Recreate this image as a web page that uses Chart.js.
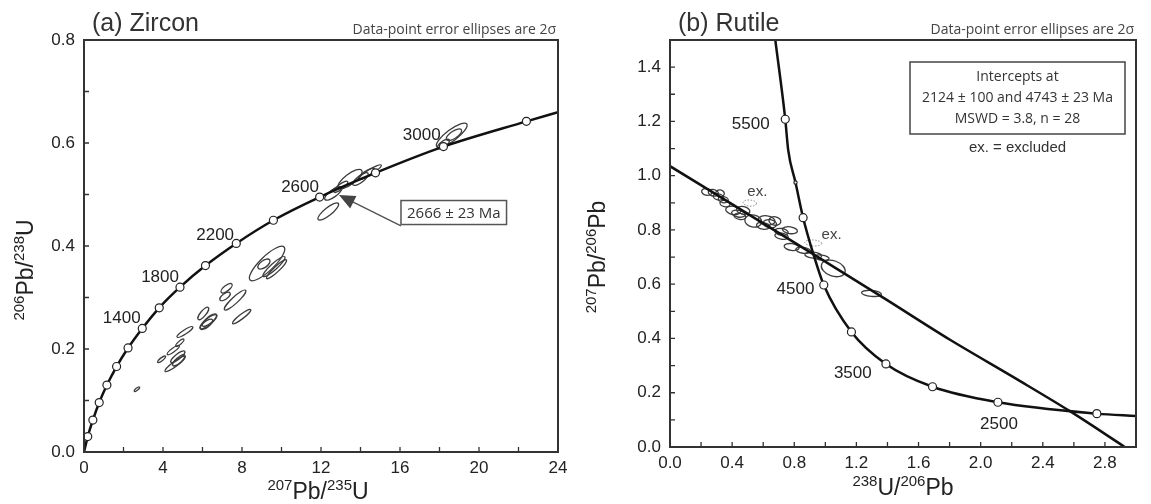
<!DOCTYPE html>
<html>
<head>
<meta charset="utf-8">
<script src="https://cdn.jsdelivr.net/npm/chart.js@4.4.1/dist/chart.umd.min.js"></script>
<style>
  body { margin: 0; background: #fff; width: 1151px; height: 504px; position: relative; overflow: hidden; }
  canvas { position: absolute; top: 0; }
  #zircon { left: 0; }
  #rutile { left: 576px; }
</style>
</head>
<body>
<canvas id="zircon" width="575" height="504"></canvas>
<canvas id="rutile" width="575" height="504"></canvas>
<script>
// (a) Zircon: concordia curve, markers every 200 Ma
const zirconCurveX = [0, 0.19, 0.45, 0.77, 1.16, 1.65, 2.23, 2.95, 3.81, 4.86, 6.15, 7.71, 9.59, 11.93, 14.76, 18.2, 22.4, 24];
const zirconCurveY = [0, 0.030, 0.062, 0.096, 0.130, 0.166, 0.202, 0.240, 0.280, 0.320, 0.362, 0.405, 0.450, 0.495, 0.542, 0.593, 0.642, 0.660];
const zirconMarkX = [0.19, 0.45, 0.77, 1.16, 1.65, 2.23, 2.95, 3.81, 4.86, 6.15, 7.71, 9.59, 11.93, 14.76, 18.2, 22.4];
const zirconMarkY = [0.030, 0.062, 0.096, 0.130, 0.166, 0.202, 0.240, 0.280, 0.320, 0.362, 0.405, 0.450, 0.495, 0.542, 0.593, 0.642];
const zirconAgeLabels = ['1400', '1800', '2200', '2600', '3000'];
const zirconAgeLabelX = [1.91, 3.85, 6.64, 10.94, 17.1];
const zirconAgeLabelY = [0.260, 0.340, 0.421, 0.514, 0.614];
// error ellipses: centre x, centre y, half major axis (dx, dy), minor/major ratio
const zirconEllipses = [
  [2.68, 0.122, 0.13, 0.004, 0.35],
  [3.93, 0.180, 0.20, 0.006, 0.3],
  [4.52, 0.198, 0.30, 0.0087, 0.25],
  [4.61, 0.171, 0.51, 0.0146, 0.2],
  [4.75, 0.185, 0.35, 0.0107, 0.3],
  [4.80, 0.178, 0.30, 0.010, 0.35],
  [4.85, 0.212, 0.20, 0.007, 0.3],
  [5.11, 0.233, 0.40, 0.0097, 0.22],
  [6.04, 0.269, 0.25, 0.0117, 0.35],
  [6.30, 0.253, 0.42, 0.013, 0.3],
  [6.35, 0.256, 0.35, 0.011, 0.35],
  [6.20, 0.248, 0.30, 0.009, 0.4],
  [7.22, 0.318, 0.27, 0.008, 0.4],
  [7.14, 0.302, 0.25, 0.007, 0.45],
  [7.65, 0.295, 0.53, 0.019, 0.22],
  [7.98, 0.263, 0.46, 0.0136, 0.2],
  [9.27, 0.366, 0.86, 0.032, 0.3],
  [9.62, 0.360, 0.55, 0.019, 0.22],
  [9.75, 0.355, 0.50, 0.018, 0.2],
  [9.11, 0.365, 0.29, 0.008, 0.5],
  [12.37, 0.467, 0.51, 0.0155, 0.3],
  [12.62, 0.502, 0.42, 0.0117, 0.35],
  [13.0, 0.515, 0.35, 0.010, 0.3],
  [13.47, 0.530, 0.59, 0.017, 0.35],
  [14.0, 0.530, 0.38, 0.0113, 0.35],
  [14.3, 0.540, 0.40, 0.010, 0.3],
  [14.5, 0.544, 0.55, 0.013, 0.2],
  [18.2, 0.598, 0.30, 0.008, 0.4],
  [18.62, 0.615, 0.76, 0.022, 0.3],
  [18.73, 0.616, 0.38, 0.0097, 0.4]
];

// (b) Rutile: Tera-Wasserburg concordia, discordia and ellipses
const rutileCurveX = [0.678, 0.742, 0.761, 0.808, 0.857, 0.922, 0.99, 1.168, 1.39, 1.69, 2.111, 2.748, 3.0];
const rutileCurveY = [1.5, 1.208, 1.094, 0.975, 0.845, 0.713, 0.597, 0.424, 0.306, 0.222, 0.165, 0.123, 0.114];
const rutileMarkX = [0.742, 0.857, 0.99, 1.168, 1.39, 1.69, 2.111, 2.748];
const rutileMarkY = [1.208, 0.845, 0.597, 0.424, 0.306, 0.222, 0.165, 0.123];
const rutileLineX = [0, 0.922, 1.393, 1.80, 2.23, 2.572, 2.928];
const rutileLineY = [1.035, 0.711, 0.543, 0.396, 0.251, 0.133, 0];
const rutileAgeLabels = ['5500', '4500', '3500', '2500'];
const rutileAgeLabelX = [0.52, 0.808, 1.177, 2.118];
const rutileAgeLabelY = [1.19, 0.581, 0.272, 0.085];
const rutileEllipses = [
  [0.236, 0.940, 0.032, -0.004, 0.65],
  [0.279, 0.937, 0.032, -0.004, 0.65],
  [0.322, 0.935, 0.027, -0.003, 0.8],
  [0.311, 0.922, 0.032, -0.004, 0.6],
  [0.343, 0.912, 0.032, -0.004, 0.6],
  [0.354, 0.897, 0.032, -0.004, 0.6],
  [0.407, 0.872, 0.048, -0.005, 0.55],
  [0.440, 0.860, 0.043, -0.005, 0.5],
  [0.450, 0.850, 0.038, -0.004, 0.5],
  [0.471, 0.872, 0.043, -0.005, 0.55],
  [0.536, 0.833, 0.054, -0.006, 0.7],
  [0.600, 0.815, 0.043, -0.004, 0.5],
  [0.622, 0.835, 0.054, -0.004, 0.55],
  [0.643, 0.823, 0.043, -0.004, 0.6],
  [0.675, 0.833, 0.038, -0.004, 0.7],
  [0.718, 0.793, 0.043, -0.004, 0.5],
  [0.772, 0.799, 0.048, -0.004, 0.45],
  [0.718, 0.777, 0.043, -0.004, 0.45],
  [0.783, 0.737, 0.048, -0.004, 0.45],
  [0.858, 0.725, 0.048, -0.004, 0.4],
  [0.922, 0.707, 0.054, -0.004, 0.36],
  [0.976, 0.698, 0.048, -0.004, 0.33],
  [1.051, 0.658, 0.075, -0.015, 0.62],
  [1.297, 0.566, 0.064, -0.003, 0.3]
];
const rutileExcluded = [
  [0.514, 0.899, 0.043, -0.002, 0.45],
  [0.922, 0.752, 0.054, -0.002, 0.36]
];
const rutileBoxLines = ['Intercepts at', '2124 \u00b1 100 and 4743 \u00b1 23 Ma', 'MSWD = 3.8, n = 28'];

const SANS = '"Liberation Sans", Arial, sans-serif';
const NOTE = '"Open Sans", "Liberation Sans", sans-serif';

function pts(xs, ys) {
  return xs.map((x, i) => ({ x: x, y: ys[i] }));
}

// text with superscript isotope masses, e.g. 207Pb/235U
function drawIsotopes(ctx, parts, x, y) {
  const big = '23px ' + SANS, small = '15px ' + SANS;
  let w = 0;
  parts.forEach(p => { ctx.font = p[1] ? small : big; w += ctx.measureText(p[0]).width; });
  let cx = x - w / 2;
  ctx.textAlign = 'left';
  ctx.textBaseline = 'alphabetic';
  parts.forEach(p => {
    ctx.font = p[1] ? small : big;
    ctx.fillText(p[0], cx, p[1] ? y - 9 : y);
    cx += ctx.measureText(p[0]).width;
  });
}

function drawEllipse(ctx, xs, ys, e) {
  const px = xs.getPixelForValue(e[0]), py = ys.getPixelForValue(e[1]);
  const tx = xs.getPixelForValue(e[0] + e[2]) - px;
  const ty = ys.getPixelForValue(e[1] + e[3]) - py;
  const a = Math.hypot(tx, ty);
  ctx.beginPath();
  ctx.ellipse(px, py, a, a * e[4], Math.atan2(ty, tx), 0, 2 * Math.PI);
  ctx.stroke();
}

function makeDecor(cfg) {
  return {
    id: 'decor',
    beforeDatasetsDraw(chart) {
      const ctx = chart.ctx, a = chart.chartArea;
      const xs = chart.scales.x, ys = chart.scales.y;
      ctx.save();
      ctx.beginPath();
      ctx.rect(a.left, a.top, a.right - a.left, a.bottom - a.top);
      ctx.clip();
      ctx.strokeStyle = '#3c3c3c';
      ctx.lineWidth = 1.3;
      cfg.ellipses.forEach(e => drawEllipse(ctx, xs, ys, e));
      if (cfg.excluded) {
        ctx.strokeStyle = '#8a8a8a';
        ctx.lineWidth = 1;
        ctx.setLineDash([1.5, 1.5]);
        cfg.excluded.forEach(e => drawEllipse(ctx, xs, ys, e));
      }
      ctx.restore();
    },
    afterDraw(chart) {
      const ctx = chart.ctx, a = chart.chartArea;
      const xs = chart.scales.x, ys = chart.scales.y;
      ctx.save();
      // frame and inward ticks
      ctx.strokeStyle = '#333';
      ctx.lineWidth = 2;
      ctx.strokeRect(a.left, a.top, a.right - a.left, a.bottom - a.top);
      ctx.lineWidth = 1.3;
      ctx.beginPath();
      xs.ticks.forEach(t => {
        const p = xs.getPixelForValue(t.value);
        if (p <= a.left + 1 || p >= a.right - 1) return;
        ctx.moveTo(p, a.bottom); ctx.lineTo(p, a.bottom - 5);
      });
      ys.ticks.forEach(t => {
        const p = ys.getPixelForValue(t.value);
        if (p <= a.top + 1 || p >= a.bottom - 1) return;
        ctx.moveTo(a.left, p); ctx.lineTo(a.left + 5, p);
      });
      ctx.stroke();

      // age labels on the concordia
      ctx.fillStyle = '#222';
      ctx.font = '17px ' + SANS;
      ctx.textAlign = 'center';
      ctx.textBaseline = 'middle';
      cfg.ageLabels.forEach((s, i) => {
        ctx.fillText(s, xs.getPixelForValue(cfg.ageLabelX[i]), ys.getPixelForValue(cfg.ageLabelY[i]));
      });

      // panel title and note
      ctx.fillStyle = '#333';
      ctx.font = '25px ' + SANS;
      ctx.textAlign = 'left';
      ctx.textBaseline = 'alphabetic';
      ctx.fillText(cfg.title, a.left + 8, 31);
      ctx.fillStyle = '#444';
      ctx.font = '14px ' + NOTE;
      ctx.textAlign = 'right';
      ctx.fillText('Data-point error ellipses are 2\u03c3', a.right - 2, 34);

      // axis titles
      ctx.fillStyle = '#222';
      drawIsotopes(ctx, cfg.xTitle, cfg.xTitlePos[0], cfg.xTitlePos[1]);
      ctx.save();
      ctx.translate(cfg.yTitlePos[0], cfg.yTitlePos[1]);
      ctx.rotate(-Math.PI / 2);
      drawIsotopes(ctx, cfg.yTitle, 0, 0);
      ctx.restore();

      if (cfg.extra) cfg.extra(ctx, chart);
      ctx.restore();
    }
  };
}

function scaleOpts(min, max, step, labelEvery, width, height, pad, fmt) {
  return {
    type: 'linear', min: min, max: max,
    grid: { display: false, drawTicks: false },
    border: { display: false },
    ticks: {
      stepSize: step, autoSkip: false, padding: pad,
      color: '#222', font: { family: SANS, size: 17 },
      callback: v => (Math.round(v / step) % labelEvery === 0 ? fmt(v) : '')
    },
    afterFit: s => {
      if (width) s.width = width;
      if (height) s.height = height;
    }
  };
}

function baseOptions(xScale, yScale, padding) {
  return {
    responsive: false,
    animation: false,
    events: [],
    layout: { padding: padding },
    plugins: { legend: { display: false }, tooltip: { enabled: false } },
    scales: { x: xScale, y: yScale }
  };
}

function curveSet(data) {
  return {
    data: data, showLine: true, borderColor: '#111', borderWidth: 2.5,
    pointRadius: 0, cubicInterpolationMode: 'monotone', order: 2
  };
}

function markerSet(data, radius) {
  return {
    data: data, showLine: false, pointRadius: radius || 4,
    pointBackgroundColor: '#fff', pointBorderColor: '#222', pointBorderWidth: 1.2, order: 1
  };
}

new Chart(document.getElementById('zircon'), {
  type: 'scatter',
  data: {
    datasets: [
      curveSet(pts(zirconCurveX, zirconCurveY)),
      markerSet(pts(zirconMarkX, zirconMarkY))
    ]
  },
  options: baseOptions(
    scaleOpts(0, 24, 2, 2, null, 52, 6, v => String(Math.round(v))),
    scaleOpts(0, 0.8, 0.1, 2, 84, null, 9, v => v.toFixed(1)),
    { top: 40, right: 17, bottom: 0, left: 0 }
  ),
  plugins: [makeDecor({
    title: '(a) Zircon',
    ellipses: zirconEllipses,
    ageLabels: zirconAgeLabels, ageLabelX: zirconAgeLabelX, ageLabelY: zirconAgeLabelY,
    xTitle: [['207', true], ['Pb/', false], ['235', true], ['U', false]],
    xTitlePos: [318, 499],
    yTitle: [['206', true], ['Pb/', false], ['238', true], ['U', false]],
    yTitlePos: [33, 270],
    extra: (ctx, chart) => {
      const xs = chart.scales.x, ys = chart.scales.y;
      // arrow from the age box to the intercept
      const x0 = xs.getPixelForValue(16.05), y0 = ys.getPixelForValue(0.439);
      const x1 = xs.getPixelForValue(12.91), y1 = ys.getPixelForValue(0.499);
      const ang = Math.atan2(y1 - y0, x1 - x0);
      ctx.strokeStyle = '#555';
      ctx.fillStyle = '#444';
      ctx.lineWidth = 1.5;
      ctx.beginPath();
      ctx.moveTo(x0, y0);
      ctx.lineTo(x1 - 12 * Math.cos(ang), y1 - 12 * Math.sin(ang));
      ctx.stroke();
      ctx.beginPath();
      ctx.moveTo(x1, y1);
      ctx.lineTo(x1 - 16 * Math.cos(ang) + 7 * Math.sin(ang), y1 - 16 * Math.sin(ang) - 7 * Math.cos(ang));
      ctx.lineTo(x1 - 16 * Math.cos(ang) - 7 * Math.sin(ang), y1 - 16 * Math.sin(ang) + 7 * Math.cos(ang));
      ctx.closePath();
      ctx.fill();
      // boxed age
      const bx = xs.getPixelForValue(16.05), by = ys.getPixelForValue(0.465);
      ctx.font = '15px ' + NOTE;
      const w = ctx.measureText('2666 \u00b1 23 Ma').width + 12;
      ctx.fillStyle = '#fff';
      ctx.fillRect(bx, by - 12, w, 24);
      ctx.strokeStyle = '#555';
      ctx.lineWidth = 1.5;
      ctx.strokeRect(bx, by - 12, w, 24);
      ctx.fillStyle = '#333';
      ctx.textAlign = 'left';
      ctx.textBaseline = 'middle';
      ctx.fillText('2666 \u00b1 23 Ma', bx + 6, by + 1);
    }
  })]
});

new Chart(document.getElementById('rutile'), {
  type: 'scatter',
  data: {
    datasets: [
      curveSet(pts(rutileCurveX, rutileCurveY)),
      curveSet(pts(rutileLineX, rutileLineY)),
      markerSet(pts(rutileMarkX, rutileMarkY)),
      markerSet([{ x: 0.808, y: 0.975 }], 1.6)
    ]
  },
  options: baseOptions(
    scaleOpts(0, 3.0, 0.2, 2, null, 57, 6, v => v.toFixed(1)),
    scaleOpts(0, 1.5, 0.1, 2, 94, null, 9, v => v.toFixed(1)),
    { top: 40, right: 15, bottom: 0, left: 0 }
  ),
  plugins: [makeDecor({
    title: '(b) Rutile',
    ellipses: rutileEllipses,
    excluded: rutileExcluded,
    ageLabels: rutileAgeLabels, ageLabelX: rutileAgeLabelX, ageLabelY: rutileAgeLabelY,
    xTitle: [['238', true], ['U/', false], ['206', true], ['Pb', false]],
    xTitlePos: [327, 495],
    yTitle: [['207', true], ['Pb/', false], ['206', true], ['Pb', false]],
    yTitlePos: [29, 257],
    extra: (ctx, chart) => {
      const xs = chart.scales.x, ys = chart.scales.y;
      ctx.fillStyle = '#444';
      ctx.font = '15px ' + SANS;
      ctx.textAlign = 'center';
      ctx.textBaseline = 'middle';
      ctx.fillText('ex.', xs.getPixelForValue(0.562), ys.getPixelForValue(0.940));
      ctx.fillText('ex.', xs.getPixelForValue(1.04), ys.getPixelForValue(0.781));
      // intercept box
      const left = 334, top = 62, w = 215, h = 72;
      ctx.strokeStyle = '#444';
      ctx.lineWidth = 1.5;
      ctx.strokeRect(left, top, w, h);
      ctx.fillStyle = '#333';
      ctx.font = '14px ' + NOTE;
      rutileBoxLines.forEach((s, i) => ctx.fillText(s, left + w / 2, top + 15 + i * 21));
      ctx.font = '15px ' + SANS;
      ctx.fillText('ex. = excluded', left + w / 2, 148);
    }
  })]
});
</script>
</body>
</html>
